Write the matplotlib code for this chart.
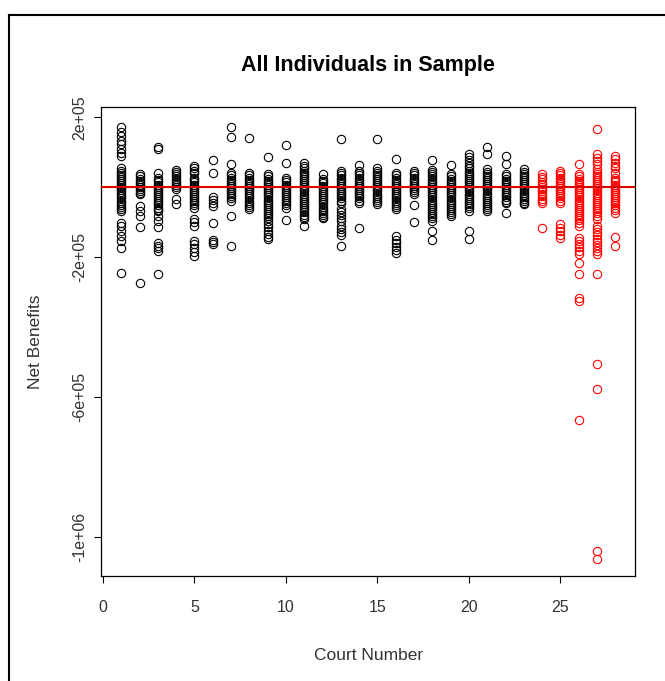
import matplotlib
matplotlib.use("Agg")
import matplotlib.pyplot as plt
from matplotlib.lines import Line2D

# net benefits per individual, in thousands (courts 1..28)
c01 = [174, 158, 146, 134, 123, 111, 97, 89, 54, 48, 42, 36, 30, 24, 18, 12, 6, 2, -3, -8, -14, -20, -26, -32, -38, -44, -50, -56, -62, -69, -103, -111, -126, -140, -154, -174, -246]
c02 = [37, 31, 25, 19, 13, 7, 1, -5, -11, -16, -20, -54, -69, -83, -114, -274]
c03 = [114, 109, 40, 26, 20, 14, 8, 2, -4, -10, -16, -22, -28, -34, -40, -46, -52, -58, -64, -69, -83, -97, -114, -160, -167, -175, -183, -249]
c04 = [49, 43, 37, 31, 25, 19, 13, 7, 1, -6, -34, -49]
c05 = [60, 54, 47, 40, 26, 20, 14, 8, 2, -4, -10, -16, -22, -28, -34, -40, -46, -52, -60, -91, -100, -111, -154, -163, -175, -186, -197]
c06 = [77, 40, -29, -37, -46, -54, -103, -151, -157, -163]
c07 = [174, 143, 66, 40, 34, 28, 22, 16, 10, 4, -2, -8, -14, -20, -26, -32, -40, -83, -169]
c08 = [140, 40, 34, 28, 22, 16, 10, 4, -2, -8, -14, -20, -26, -32, -38, -44, -50, -56, -63]
c09 = [86, 37, 31, 25, 19, 13, 7, 1, -5, -11, -17, -23, -29, -35, -41, -47, -53, -59, -65, -71, -77, -83, -89, -97, -106, -115, -124, -133, -141, -149]
c10 = [120, 71, 26, 20, 14, 8, 2, -4, -10, -16, -22, -28, -34, -40, -46, -52, -60, -94]
c11 = [71, 60, 54, 48, 42, 36, 30, 24, 18, 12, 6, 0, -6, -12, -18, -24, -30, -36, -42, -48, -54, -60, -66, -72, -78, -84, -91, -111]
c12 = [37, 23, 17, 11, 5, -1, -7, -13, -19, -25, -31, -37, -43, -49, -55, -61, -67, -73, -79, -85, -89]
c13 = [137, 46, 40, 34, 28, 22, 16, 10, 4, -2, -8, -14, -20, -26, -32, -38, -46, -63, -72, -80, -89, -97, -111, -120, -128, -137, -169]
c14 = [63, 46, 40, 34, 28, 22, 16, 10, 4, -2, -8, -14, -20, -26, -32, -38, -46, -117]
c15 = [137, 54, 48, 42, 36, 30, 24, 18, 12, 6, 0, -6, -12, -18, -24, -30, -36, -42, -49]
c16 = [80, 40, 34, 28, 22, 16, 10, 4, -2, -8, -14, -20, -26, -32, -38, -44, -50, -56, -63, -140, -150, -160, -170, -180, -189]
c17 = [46, 40, 34, 28, 22, 16, 10, 4, -2, -8, -14, -20, -51, -100]
c18 = [77, 49, 43, 37, 31, 25, 19, 13, 7, 1, -5, -11, -17, -23, -29, -35, -41, -47, -53, -59, -65, -71, -77, -83, -89, -97, -126, -151]
c19 = [63, 37, 31, 25, 19, 13, 7, 1, -5, -11, -17, -23, -29, -35, -41, -47, -53, -59, -65, -71, -77, -83]
c20 = [94, 86, 78, 70, 62, 54, 48, 42, 36, 30, 24, 18, 12, 6, 0, -6, -12, -18, -24, -30, -36, -42, -48, -54, -60, -69, -126, -149]
c21 = [114, 94, 51, 45, 39, 33, 27, 21, 15, 9, 3, -3, -9, -15, -21, -27, -33, -39, -45, -51, -57, -63, -69]
c22 = [89, 66, 37, 31, 25, 19, 13, 7, 1, -5, -11, -17, -23, -29, -35, -41, -46, -74]
c23 = [51, 45, 39, 33, 27, 21, 15, 9, 3, -3, -9, -15, -21, -27, -33, -39, -44, -49]
c24 = [37, 30, 23, 16, 9, 2, -5, -12, -19, -26, -33, -40, -46, -117]
c25 = [46, 40, 34, 28, 22, 16, 10, 4, -2, -8, -14, -20, -26, -32, -38, -46, -106, -116, -126, -136, -146]
c26 = [66, 37, 31, 25, 19, 13, 7, 1, -5, -11, -17, -23, -29, -35, -41, -47, -53, -59, -65, -71, -77, -83, -89, -95, -101, -111, -146, -155, -163, -172, -181, -191, -217, -249, -317, -326, -667]
c27 = [166, 94, 85, 76, 66, 51, 45, 39, 33, 27, 21, 15, 9, 3, -3, -9, -15, -21, -27, -33, -39, -45, -51, -57, -63, -69, -75, -81, -91, -111, -120, -129, -138, -147, -156, -165, -174, -183, -191, -249, -506, -577, -1042, -1064]
c28 = [89, 80, 71, 62, 54, 40, 26, 20, 14, 8, 2, -4, -10, -16, -22, -28, -34, -40, -46, -52, -58, -64, -74, -143, -169]

court_values = [c01, c02, c03, c04, c05, c06, c07, c08, c09, c10, c11, c12, c13, c14,
                c15, c16, c17, c18, c19, c20, c21, c22, c23, c24, c25, c26, c27, c28]
red_courts = [24, 25, 26, 27, 28]

plt.rcParams['font.family'] = ['Liberation Sans', 'DejaVu Sans']

fig = plt.figure(figsize=(6.65, 6.81), dpi=100)
ax = fig.add_axes([0.1526, 0.1542, 0.8024, 0.6887])

for i, vals in enumerate(court_values):
    court = i + 1
    col = 'red' if court in red_courts else 'black'
    ax.plot([court] * len(vals), [v * 1000 for v in vals], 'o', mfc='none', mec=col,
            ms=6, mew=0.8, linestyle='none')

ax.axhline(0, color='#dd0000', lw=1.5, zorder=5)

ax.set_xlim(-0.08, 29.08)
ax.set_ylim(-1113000, 230000)
ax.set_xticks([0, 5, 10, 15, 20, 25])
ax.set_yticks([200000, -200000, -600000, -1000000])
ax.set_yticklabels(['2e+05', '-2e+05', '-6e+05', '-1e+06'], rotation=90, va='center')
ax.tick_params(direction='out', length=5, width=0.8, labelsize=11.5, colors='black')
ax.tick_params(axis='x', pad=12)
ax.tick_params(axis='y', pad=5)
for lab in ax.get_xticklabels() + ax.get_yticklabels():
    lab.set_color('#333333')
for s in ax.spines.values():
    s.set_linewidth(0.9)

ax.set_title('All Individuals in Sample', fontsize=15.5, fontweight='bold', pad=26)
ax.set_xlabel('Court Number', fontsize=12.5, labelpad=24, color='#333333')
ax.set_ylabel('Net Benefits', fontsize=12.5, labelpad=21, color='#333333')

# outer frame of the screenshot
fig.add_artist(Line2D([9 / 665, 9 / 665], [0, 1 - 15 / 681], color='black', lw=1.5))
fig.add_artist(Line2D([9 / 665, 1], [1 - 15 / 681, 1 - 15 / 681], color='black', lw=1.5))

fig.savefig('out.png', dpi=100)
